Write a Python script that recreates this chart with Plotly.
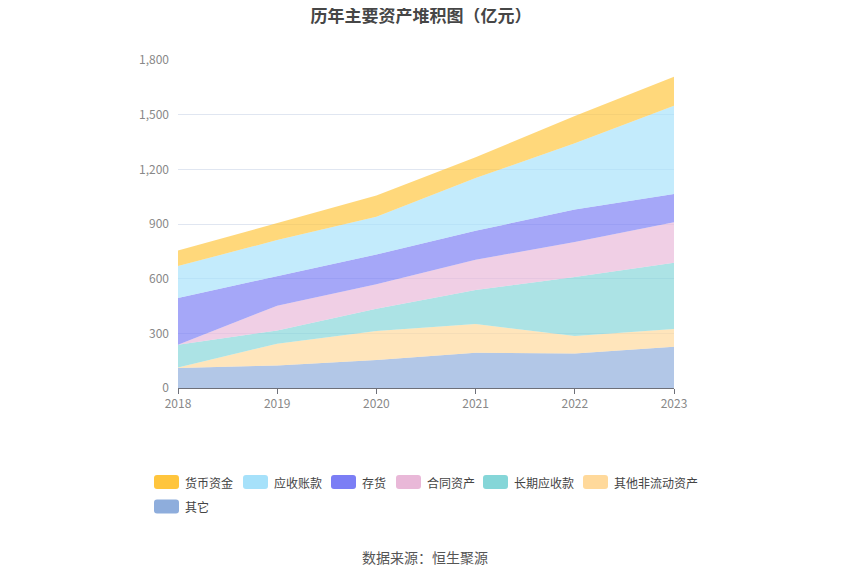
import plotly.graph_objects as go

years = [2018, 2019, 2020, 2021, 2022, 2023]

# values in 亿元, bottom of the stack first
qita = [110, 124, 154, 194, 190, 227]            # 其它
qita_fldzc = [2, 119, 159, 157, 95, 97]          # 其他非流动资产
cq_ysk = [126, 73, 122, 187, 324, 364]           # 长期应收款
ht_zc = [0, 136, 134, 166, 192, 221]             # 合同资产
cunhuo = [256, 161, 164, 159, 178, 155]          # 存货
ys_zk = [175, 199, 207, 289, 364, 485]           # 应收账款
hb_zj = [85, 93, 117, 114, 149, 159]             # 货币资金

names = ["其它", "其他非流动资产", "长期应收款", "合同资产", "存货", "应收账款", "货币资金"]
values = [qita, qita_fldzc, cq_ysk, ht_zc, cunhuo, ys_zk, hb_zj]
colors = ["#8eaddc", "#ffd99b", "#85d6d8", "#e9b8d8", "#7b7ef5", "#a6e1fa", "#ffc53d"]


def rgba(hexcol, a):
    h = hexcol.lstrip("#")
    return "rgba(%d,%d,%d,%.2f)" % (int(h[0:2], 16), int(h[2:4], 16), int(h[4:6], 16), a)


fig = go.Figure()
for name, vals, col in zip(names, values, colors):
    fig.add_trace(go.Scatter(
        x=years, y=vals, name=name, mode="lines",
        stackgroup="one", line=dict(width=0), fillcolor=rgba(col, 0.68),
        showlegend=False,
        hovertemplate="%{x}<br>" + name + "：%{y}<extra></extra>",
    ))

# plot area in figure pixels
L, T, W, H = 170, 52, 496, 328


def px(x):
    return (x - L) / W


def py(y):
    return (T + H - y) / H


# hand-drawn legend (rounded swatches like the original)
legend_order = ["货币资金", "应收账款", "存货", "合同资产", "长期应收款", "其他非流动资产", "其它"]
legend_pos = [(146, 474), (235, 474), (323, 474), (388, 474), (475, 474), (575, 474), (146, 498.5)]
shapes = []
annotations = []
for name, (x0, yc) in zip(legend_order, legend_pos):
    col = colors[names.index(name)]
    x1, y0, y1, r = x0 + 25, yc - 7, yc + 7, 3
    path = ("M %f,%f L %f,%f Q %f,%f %f,%f L %f,%f Q %f,%f %f,%f "
            "L %f,%f Q %f,%f %f,%f L %f,%f Q %f,%f %f,%f Z") % (
        px(x0 + r), py(y0), px(x1 - r), py(y0),
        px(x1), py(y0), px(x1), py(y0 + r), px(x1), py(y1 - r),
        px(x1), py(y1), px(x1 - r), py(y1), px(x0 + r), py(y1),
        px(x0), py(y1), px(x0), py(y1 - r), px(x0), py(y0 + r),
        px(x0), py(y0), px(x0 + r), py(y0))
    shapes.append(dict(type="path", path=path, xref="paper", yref="paper",
                       fillcolor=col, line=dict(width=0), layer="above"))
    annotations.append(dict(text=name, x=px(x1 + 4), y=py(yc), xref="paper", yref="paper",
                            xanchor="left", yanchor="middle", showarrow=False,
                            font=dict(size=12, color="#444")))

annotations.append(dict(text="数据来源：恒生聚源", x=px(417), xref="paper",
                        y=py(549), yref="paper", yanchor="middle", showarrow=False,
                        font=dict(size=14, color="#555")))

font = "Noto Sans CJK SC, sans-serif"
fig.update_layout(
    width=850, height=574,
    margin=dict(l=L, r=850 - L - W, t=T, b=574 - T - H),
    paper_bgcolor="white", plot_bgcolor="white",
    font=dict(family=font, size=12, color="#666"),
    title=dict(text="<b>历年主要资产堆积图（亿元）</b>", x=413 / 850, xanchor="center",
               xref="container", y=1, yanchor="top", pad=dict(t=2),
               font=dict(size=17, color="#464646")),
    xaxis=dict(range=[2018, 2023], tickmode="array", tickvals=years,
               showgrid=False, showline=True, linecolor="#6e7079",
               ticks="outside", ticklen=5, tickcolor="#6e7079",
               tickfont=dict(color="#888", size=12), zeroline=False),
    yaxis=dict(range=[0, 1800], tickvals=[0, 300, 600, 900, 1200, 1500, 1800],
               tickformat=",", gridcolor="#e0e6f1", showline=False,
               zeroline=False, tickfont=dict(color="#888", size=12),
               ticklabelstandoff=8),
    shapes=shapes,
    annotations=annotations,
)

fig.write_html("out.html")
